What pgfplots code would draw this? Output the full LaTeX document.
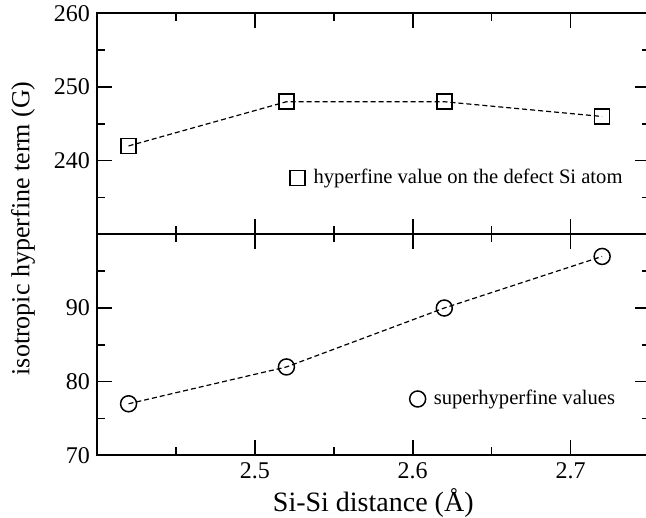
\documentclass[border=0pt]{standalone}
\usepackage{fontspec}
\setmainfont{Liberation Serif}
\usepackage{pgfplots}
\pgfplotsset{compat=1.18}

\pgfplotsset{
  panel/.style={
    width=276.25pt, height=110.5pt, scale only axis,
    xmin=2.4, xmax=2.75,
    xtick={2.5,2.6,2.7},
    minor xtick={2.45,2.55,2.65},
    axis line style={line width=1pt},
    major tick length=7.5pt, minor tick length=4pt,
    every tick/.style={black, line width=0.8pt},
    tick label style={font=\rmfamily\fontsize{12}{14}\selectfont},
    legend style={draw=none, fill=none, inner sep=0pt,
      font=\fontsize{10.3}{12}\selectfont, cells={anchor=west}},
    legend image code/.code={%
      \draw[#1, solid] plot coordinates {(3.75pt,0pt)};
      \path (0pt,0pt) (9.5pt,0pt);},
  },
  dline/.style={black, line width=0.6pt, dash pattern=on 2.5pt off 1.5pt,
    mark options={solid, line width=0.75pt}},
}

\begin{document}
\begin{tikzpicture}
  % upper panel: hyperfine value on the defect atom
  \begin{axis}[panel, name=top,
    ymin=230, ymax=260,
    ytick={240,250,260}, yticklabels={240,250,260},
    minor ytick={235,245,255},
    xticklabels={},
    legend style={at={(0.3475,0.256)}, anchor=west},
  ]
    \addplot[dline, mark=square, mark size=3.75pt] coordinates {
      (2.42,242) (2.52,248) (2.62,248) (2.72,246)
    };
    \addlegendentry{hyperfine value on the defect Si atom}
  \end{axis}

  % lower panel: superhyperfine values
  \begin{axis}[panel, name=bot,
    at={(top.south west)}, anchor=north west,
    ymin=70, ymax=100,
    ytick={70,80,90}, yticklabels={70,80,90},
    minor ytick={75,85,95},
    xticklabels={2.5,2.6,2.7},
    xlabel={Si-Si distance (Å)},
    xlabel style={font=\fontsize{14}{16}\selectfont,
      at={(axis description cs:0.5,0)}, anchor=base, yshift=-28pt},
    legend style={at={(0.565,0.255)}, anchor=west},
  ]
    \addplot[dline, mark=o, mark size=4pt] coordinates {
      (2.42,77) (2.52,82) (2.62,90) (2.72,97)
    };
    \addlegendentry{superhyperfine values}
  \end{axis}

  \node[rotate=90, font=\fontsize{13}{16}\selectfont]
    at ([xshift=-37pt, yshift=3pt]top.south west) {isotropic hyperfine term (G)};

  \pgfresetboundingbox
  \path ([xshift=-48.5pt, yshift=6.67pt]top.north west)
    rectangle ([xshift=-1.75pt, yshift=-31.2pt]bot.south east);
\end{tikzpicture}
\end{document}
